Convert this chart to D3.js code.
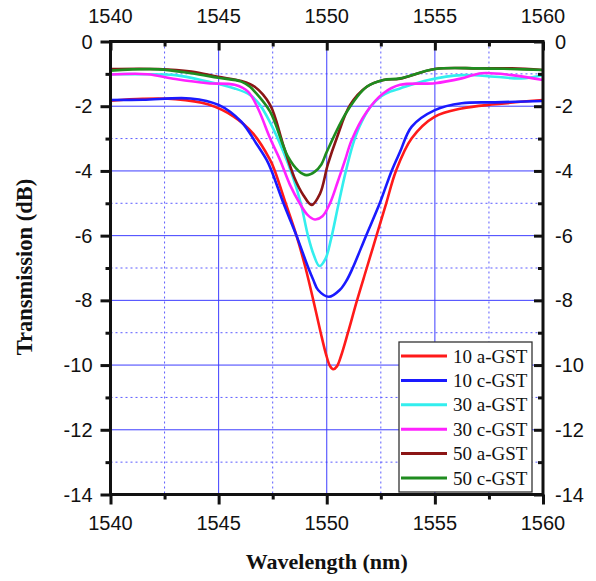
<!DOCTYPE html>
<html>
<head>
<meta charset="utf-8">
<script src="https://cdn.jsdelivr.net/npm/d3@7"></script>
<style>
  html, body { margin: 0; padding: 0; background: #fff; overflow: hidden; }
  svg { display: block; }
  .tick-label { font-family: "Liberation Sans", Arial, sans-serif; font-size: 20px; fill: #111; }
  .axis-title { font-family: "Liberation Serif", "Times New Roman", serif; font-weight: bold; font-size: 22px; fill: #111; }
  .legend-text { font-family: "Liberation Serif", "Times New Roman", serif; font-size: 19px; fill: #111; }
</style>
</head>
<body>
<svg id="chart"></svg>
<script>
const margin = {top: 41.5, right: 53, bottom: 86.5, left: 110.5};
const chartWidth = 596;
const chartHeight = 581;
const innerWidth = chartWidth - margin.left - margin.right;
const innerHeight = chartHeight - margin.top - margin.bottom;

const X_MIN = 1540, X_MAX = 1560;
const Y_MIN = -14, Y_MAX = 0;

const X_TICKS = [1540, 1545, 1550, 1555, 1560];
const X_MINOR = [1542.5, 1547.5, 1552.5, 1557.5];
const Y_TICKS = [0, -2, -4, -6, -8, -10, -12, -14];
const Y_MINOR = [-1, -3, -5, -7, -9, -11, -13];

const X_LABEL = "Wavelength (nm)";
const Y_LABEL = "Transmission (dB)";

// [wavelength nm, transmission dB]
const red10a = [[1540,-1.83],[1541.5,-1.77],[1543,-1.78],[1544.5,-1.94],[1545.7,-2.32],[1546.6,-2.85],
  [1547.38,-3.66],[1547.6,-4.0],[1548.1,-5.0],[1548.6,-6.0],[1549.02,-7.0],[1549.38,-8.0],[1549.72,-9.0],
  [1549.98,-9.7],[1550.15,-10.03],[1550.3,-10.13],[1550.47,-10.04],[1550.66,-9.72],[1550.98,-9.0],
  [1551.4,-8.0],[1551.85,-7.0],[1552.3,-6.0],[1552.75,-5.0],[1553.2,-4.0],[1553.93,-2.99],[1555,-2.32],
  [1556.24,-2.07],[1557.78,-1.94],[1560,-1.81]];
const blue10c = [[1540,-1.81],[1541.5,-1.8],[1543.7,-1.76],[1545,-1.96],[1546.05,-2.48],[1546.74,-3.15],
  [1547.22,-3.66],[1547.45,-4.0],[1548.0,-5.0],[1548.6,-6.0],[1549.15,-7.0],[1549.38,-7.37],[1549.6,-7.68],
  [1550.1,-7.89],[1550.6,-7.68],[1550.93,-7.37],[1551.2,-7.0],[1551.82,-6.0],[1552.45,-5.0],[1553.0,-4.0],
  [1553.39,-3.41],[1553.93,-2.63],[1555,-2.12],[1556.24,-1.91],[1557.78,-1.88],[1560,-1.84]];
const cyan30a = [[1540,-1.01],[1541.4,-1.01],[1543,-1.04],[1544.5,-1.24],[1545.74,-1.45],[1546.45,-1.65],
  [1546.9,-1.95],[1547.38,-2.5],[1547.99,-3.4],[1548.44,-4.2],[1548.8,-5.0],[1549.13,-6.0],[1549.4,-6.6],
  [1549.66,-6.94],[1549.95,-6.7],[1550.2,-6.1],[1550.52,-5.1],[1550.85,-4.1],[1551.2,-3.2],[1551.5,-2.65],
  [1551.99,-2.05],[1552.5,-1.7],[1552.93,-1.55],[1553.39,-1.45],[1554.7,-1.19],[1556.24,-1.04],[1557.78,-1.09],
  [1559,-1.14],[1560,-1.04]];
const magenta30c = [[1540,-1.02],[1541.7,-1.01],[1543,-1.16],[1544.5,-1.29],[1545.74,-1.34],[1546.36,-1.55],
  [1546.82,-2.07],[1547.38,-2.99],[1547.84,-3.66],[1548.3,-4.43],[1548.75,-5.0],[1549.1,-5.35],[1549.45,-5.5],
  [1549.8,-5.4],[1550.15,-5.0],[1550.5,-4.35],[1550.85,-3.66],[1551.15,-3.05],[1551.85,-2.17],[1552.62,-1.6],
  [1553.39,-1.34],[1555,-1.29],[1556.24,-1.14],[1557.16,-0.98],[1558.56,-1.04],[1560,-1.19]];
const brown50a = [[1540,-0.85],[1542.2,-0.85],[1543.74,-0.93],[1544.97,-1.09],[1546.05,-1.22],[1546.67,-1.4],
  [1547.38,-1.96],[1547.99,-3.2],[1548.5,-4.2],[1548.92,-4.75],[1549.3,-5.05],[1549.69,-4.7],[1550.05,-3.8],
  [1550.46,-2.99],[1551.08,-1.96],[1551.85,-1.4],[1552.62,-1.19],[1553.39,-1.15],[1555,-0.85],[1557,-0.83],
  [1558.56,-0.83],[1560,-0.88]];
const green50c = [[1540,-0.9],[1542.2,-0.86],[1543.74,-0.98],[1544.97,-1.12],[1546.05,-1.24],[1546.45,-1.4],
  [1546.67,-1.55],[1547.38,-2.17],[1548.2,-3.55],[1548.7,-4.0],[1549.07,-4.13],[1549.45,-4.02],[1549.75,-3.8],
  [1550,-3.41],[1550.93,-2.17],[1551.85,-1.4],[1552.62,-1.19],[1553.39,-1.14],[1555,-0.85],[1557,-0.83],
  [1558.5,-0.85],[1560,-0.88]];

const SERIES_NAMES = ["10 a-GST", "10 c-GST", "30 a-GST", "30 c-GST", "50 a-GST", "50 c-GST"];
const SERIES_DATA = [red10a, blue10c, cyan30a, magenta30c, brown50a, green50c];
const SERIES_COLORS = ["#ff1a1a", "#1a1aff", "#33eeee", "#ff22ff", "#8b1515", "#1f8c1f"];

const LINE_WIDTH = 2.6;

const chartSvg = d3.select("#chart")
    .attr("width", chartWidth)
    .attr("height", chartHeight);
const chartG = chartSvg.append("g")
    .attr("transform", `translate(${margin.left}, ${margin.top})`);

const xScale = d3.scaleLinear().domain([X_MIN, X_MAX]).range([0, innerWidth]);
const yScale = d3.scaleLinear().domain([Y_MIN, Y_MAX]).range([innerHeight, 0]);

// grid
chartG.selectAll(".grid-minor-x").data(X_MINOR).enter().append("line")
    .attr("x1", d => xScale(d)).attr("x2", d => xScale(d))
    .attr("y1", 0).attr("y2", innerHeight)
    .attr("stroke", "#5b5bff").attr("stroke-width", 1).attr("stroke-dasharray", "2,3");
chartG.selectAll(".grid-minor-y").data(Y_MINOR).enter().append("line")
    .attr("y1", d => yScale(d)).attr("y2", d => yScale(d))
    .attr("x1", 0).attr("x2", innerWidth)
    .attr("stroke", "#5b5bff").attr("stroke-width", 1).attr("stroke-dasharray", "2,3");
chartG.selectAll(".grid-major-x").data(X_TICKS.slice(1, -1)).enter().append("line")
    .attr("x1", d => xScale(d)).attr("x2", d => xScale(d))
    .attr("y1", 0).attr("y2", innerHeight)
    .attr("stroke", "#3d3dff").attr("stroke-width", 1);
chartG.selectAll(".grid-major-y").data(Y_TICKS.slice(1, -1)).enter().append("line")
    .attr("y1", d => yScale(d)).attr("y2", d => yScale(d))
    .attr("x1", 0).attr("x2", innerWidth)
    .attr("stroke", "#3d3dff").attr("stroke-width", 1);

// curves
chartG.append("clipPath").attr("id", "plot-clip")
    .append("rect").attr("width", innerWidth).attr("height", innerHeight);

const line = d3.line()
    .x(d => xScale(d[0]))
    .y(d => yScale(d[1]))
    .curve(d3.curveCatmullRom.alpha(0.5));

SERIES_DATA.forEach((data, i) => {
    chartG.append("path")
        .datum(data)
        .attr("clip-path", "url(#plot-clip)")
        .attr("fill", "none")
        .attr("stroke", SERIES_COLORS[i])
        .attr("stroke-width", LINE_WIDTH)
        .attr("stroke-linejoin", "round")
        .attr("d", line);
});

// tick marks (axes without their own text)
function tickOnly(g) {
    g.select(".domain").remove();
    g.selectAll("line").attr("stroke", "#111").attr("stroke-width", 3);
    g.selectAll("text").remove();
}
const bottomG = chartG.append("g").attr("transform", `translate(0,${innerHeight})`);
bottomG.append("g").call(d3.axisBottom(xScale).tickValues(X_MINOR).tickSize(5)).call(tickOnly);
bottomG.append("g").call(d3.axisBottom(xScale).tickValues(X_TICKS).tickSize(10)).call(tickOnly);
chartG.append("g").call(d3.axisTop(xScale).tickValues(X_MINOR).tickSize(-5)).call(tickOnly);
chartG.append("g").call(d3.axisTop(xScale).tickValues(X_TICKS).tickSize(-9)).call(tickOnly);
chartG.append("g").call(d3.axisLeft(yScale).tickValues(Y_MINOR).tickSize(5)).call(tickOnly);
chartG.append("g").call(d3.axisLeft(yScale).tickValues(Y_TICKS).tickSize(10)).call(tickOnly);
const rightG = chartG.append("g").attr("transform", `translate(${innerWidth},0)`);
rightG.append("g").call(d3.axisRight(yScale).tickValues(Y_MINOR).tickSize(-5)).call(tickOnly);
rightG.append("g").call(d3.axisRight(yScale).tickValues(Y_TICKS).tickSize(-9)).call(tickOnly);

// tick labels
const yFormat = d => d === 0 ? "0" : "-" + Math.abs(d);
const labelsG = chartG.append("g");
labelsG.selectAll(".xb").data(X_TICKS).enter().append("text")
    .attr("class", "tick-label").attr("text-anchor", "middle")
    .attr("x", d => xScale(d)).attr("y", innerHeight + 35.5)
    .text(d => d);
labelsG.selectAll(".xt").data(X_TICKS).enter().append("text")
    .attr("class", "tick-label").attr("text-anchor", "middle")
    .attr("x", d => xScale(d)).attr("y", -18.5)
    .text(d => d);
labelsG.selectAll(".yl").data(Y_TICKS).enter().append("text")
    .attr("class", "tick-label").attr("text-anchor", "end")
    .attr("x", -18).attr("y", d => yScale(d) + 7)
    .text(yFormat);
labelsG.selectAll(".yr").data(Y_TICKS).enter().append("text")
    .attr("class", "tick-label").attr("text-anchor", "start")
    .attr("x", innerWidth + 12).attr("y", d => yScale(d) + 7)
    .text(yFormat);

// frame
chartG.append("rect")
    .attr("width", innerWidth).attr("height", innerHeight)
    .attr("fill", "none").attr("stroke", "#111").attr("stroke-width", 3);

// axis titles
chartG.append("text")
    .attr("class", "axis-title")
    .attr("text-anchor", "middle")
    .attr("x", innerWidth / 2)
    .attr("y", innerHeight + 74)
    .text(X_LABEL);
chartG.append("text")
    .attr("class", "axis-title")
    .attr("text-anchor", "middle")
    .style("font-size", "22.5px")
    .attr("transform", `translate(-79, ${innerHeight / 2 - 1}) rotate(-90)`)
    .text(Y_LABEL);

// legend
const legendX = 288.5, legendY = 300.5, legendW = 133, legendH = 150, rowH = 24.4;
const legend = chartG.append("g").attr("transform", `translate(${legendX}, ${legendY})`);
legend.append("rect")
    .attr("width", legendW).attr("height", legendH)
    .attr("fill", "#fff").attr("stroke", "#333").attr("stroke-width", 1.3);
SERIES_NAMES.forEach((name, i) => {
    const cy = 14 + i * rowH;
    legend.append("line")
        .attr("x1", 2).attr("x2", 48).attr("y1", cy).attr("y2", cy)
        .attr("stroke", SERIES_COLORS[i]).attr("stroke-width", 3);
    legend.append("text")
        .attr("class", "legend-text")
        .attr("x", 54).attr("y", cy)
        .attr("dy", "0.35em")
        .text(name);
});
</script>
</body>
</html>
